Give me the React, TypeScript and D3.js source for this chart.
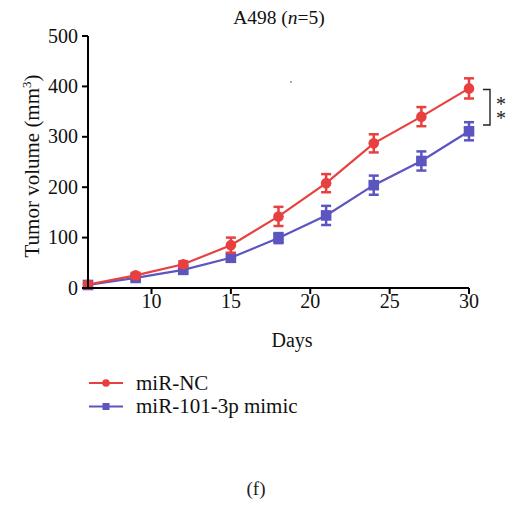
import React from "react";
import * as d3 from "d3";

const days = [6, 9, 12, 15, 18, 21, 24, 27, 30];
const ncMean = [7, 25, 47, 85, 142, 208, 287, 340, 396];
const ncErr = [4, 5, 6, 15, 19, 18, 18, 19, 20];
const mimicMean = [6, 20, 36, 60, 99, 144, 204, 252, 311];
const mimicErr = [3, 4, 5, 8, 10, 19, 19, 19, 18];
const xTicks = [10, 15, 20, 25, 30];
const yTicks = [0, 100, 200, 300, 400, 500];
const seriesNames = ["miR-NC", "miR-101-3p mimic"];

const RED = "#e8403f";
const PURPLE = "#5c55c0";
const FONT = "'Liberation Serif', 'DejaVu Serif', serif";

export default function App() {
  const x = d3.scaleLinear().domain([6, 30]).range([88, 469]);
  const y = d3.scaleLinear().domain([0, 500]).range([288, 36]);
  const line = d3
    .line<[number, number]>()
    .x((d) => x(d[0]))
    .y((d) => y(d[1]));

  const series = [
    { mean: mimicMean, err: mimicErr, color: PURPLE, shape: "square" },
    { mean: ncMean, err: ncErr, color: RED, shape: "circle" },
  ];

  return (
    <svg width={511} height={509} style={{ position: "absolute", left: 0, top: 0 }} fontFamily={FONT}>
      <rect width={511} height={509} fill="#fff" />
      <text x={279} y={23.5} textAnchor="middle" fontSize={19.5} fill="#111">
        A498 (<tspan fontStyle="italic">n</tspan>=5)
      </text>
      <circle cx={291} cy={82} r={0.8} fill="#444" />

      {series.map((s, si) => (
        <g key={si}>
          <path
            d={line(days.map((d, i) => [d, s.mean[i]]) as [number, number][]) || ""}
            fill="none"
            stroke={s.color}
            strokeWidth={2.2}
          />
          {days.map((d, i) => {
            const cx = x(d);
            const top = y(s.mean[i] + s.err[i]);
            const bot = y(s.mean[i] - s.err[i]);
            return (
              <g key={i} stroke={s.color} strokeWidth={2.5}>
                <line x1={cx} x2={cx} y1={top} y2={bot} />
                <line x1={cx - 5} x2={cx + 5} y1={top} y2={top} />
                <line x1={cx - 5} x2={cx + 5} y1={bot} y2={bot} />
              </g>
            );
          })}
          {days.map((d, i) =>
            s.shape === "circle" ? (
              <circle key={"m" + i} cx={x(d)} cy={y(s.mean[i])} r={5.3} fill={s.color} />
            ) : (
              <rect
                key={"m" + i}
                x={x(d) - 5.3}
                y={y(s.mean[i]) - 5.3}
                width={10.6}
                height={10.6}
                fill={s.color}
              />
            )
          )}
        </g>
      ))}

      {/* axes */}
      <g stroke="#000" strokeWidth={2} fill="none">
        <line x1={88} x2={88} y1={y(500)} y2={y(0) + 1} />
        <line x1={87} x2={x(30)} y1={y(0)} y2={y(0)} />
        {yTicks.map((t) => (
          <line key={t} x1={82} x2={88} y1={y(t)} y2={y(t)} />
        ))}
        {xTicks.map((t) => (
          <line key={t} x1={x(t)} x2={x(t)} y1={y(0)} y2={y(0) + 6} />
        ))}
      </g>
      {yTicks.map((t) => (
        <text key={t} x={78} y={y(t) + 6.5} textAnchor="end" fontSize={20} fill="#111">
          {t}
        </text>
      ))}
      {xTicks.map((t) => (
        <text key={t} x={x(t)} y={307.5} textAnchor="middle" fontSize={20} fill="#111">
          {t}
        </text>
      ))}
      <text x={292} y={346.5} textAnchor="middle" fontSize={20} fill="#111">
        Days
      </text>
      <text
        transform="translate(39,166) rotate(-90)"
        textAnchor="middle"
        fontSize={21}
        fill="#111"
      >
        Tumor volume (mm<tspan dy={-8} fontSize={13}>3</tspan>
        <tspan dy={8}>)</tspan>
      </text>

      {/* significance bracket */}
      <path d="M483,89.5 H490 V125 H483" fill="none" stroke="#222" strokeWidth={1.4} />
      <text textAnchor="middle" fontSize={20} fill="#222">
        <tspan x={501} y={111}>*</tspan>
        <tspan x={501} y={124.5}>*</tspan>
      </text>

      {/* legend */}
      {seriesNames.map((name, i) => {
        const ly = 383 + i * 23.5;
        const color = i === 0 ? RED : PURPLE;
        return (
          <g key={name}>
            <line x1={89} x2={123} y1={ly} y2={ly} stroke={color} strokeWidth={2.2} />
            {i === 0 ? (
              <circle cx={106} cy={ly} r={3.8} fill={color} />
            ) : (
              <rect x={102.5} y={ly - 3.5} width={7} height={7} fill={color} />
            )}
            <text x={136} y={ly + 6.5} fontSize={21} fill="#111">
              {name}
            </text>
          </g>
        );
      })}

      <text x={256} y={495} textAnchor="middle" fontSize={19} fill="#222">
        (f)
      </text>
    </svg>
  );
}
